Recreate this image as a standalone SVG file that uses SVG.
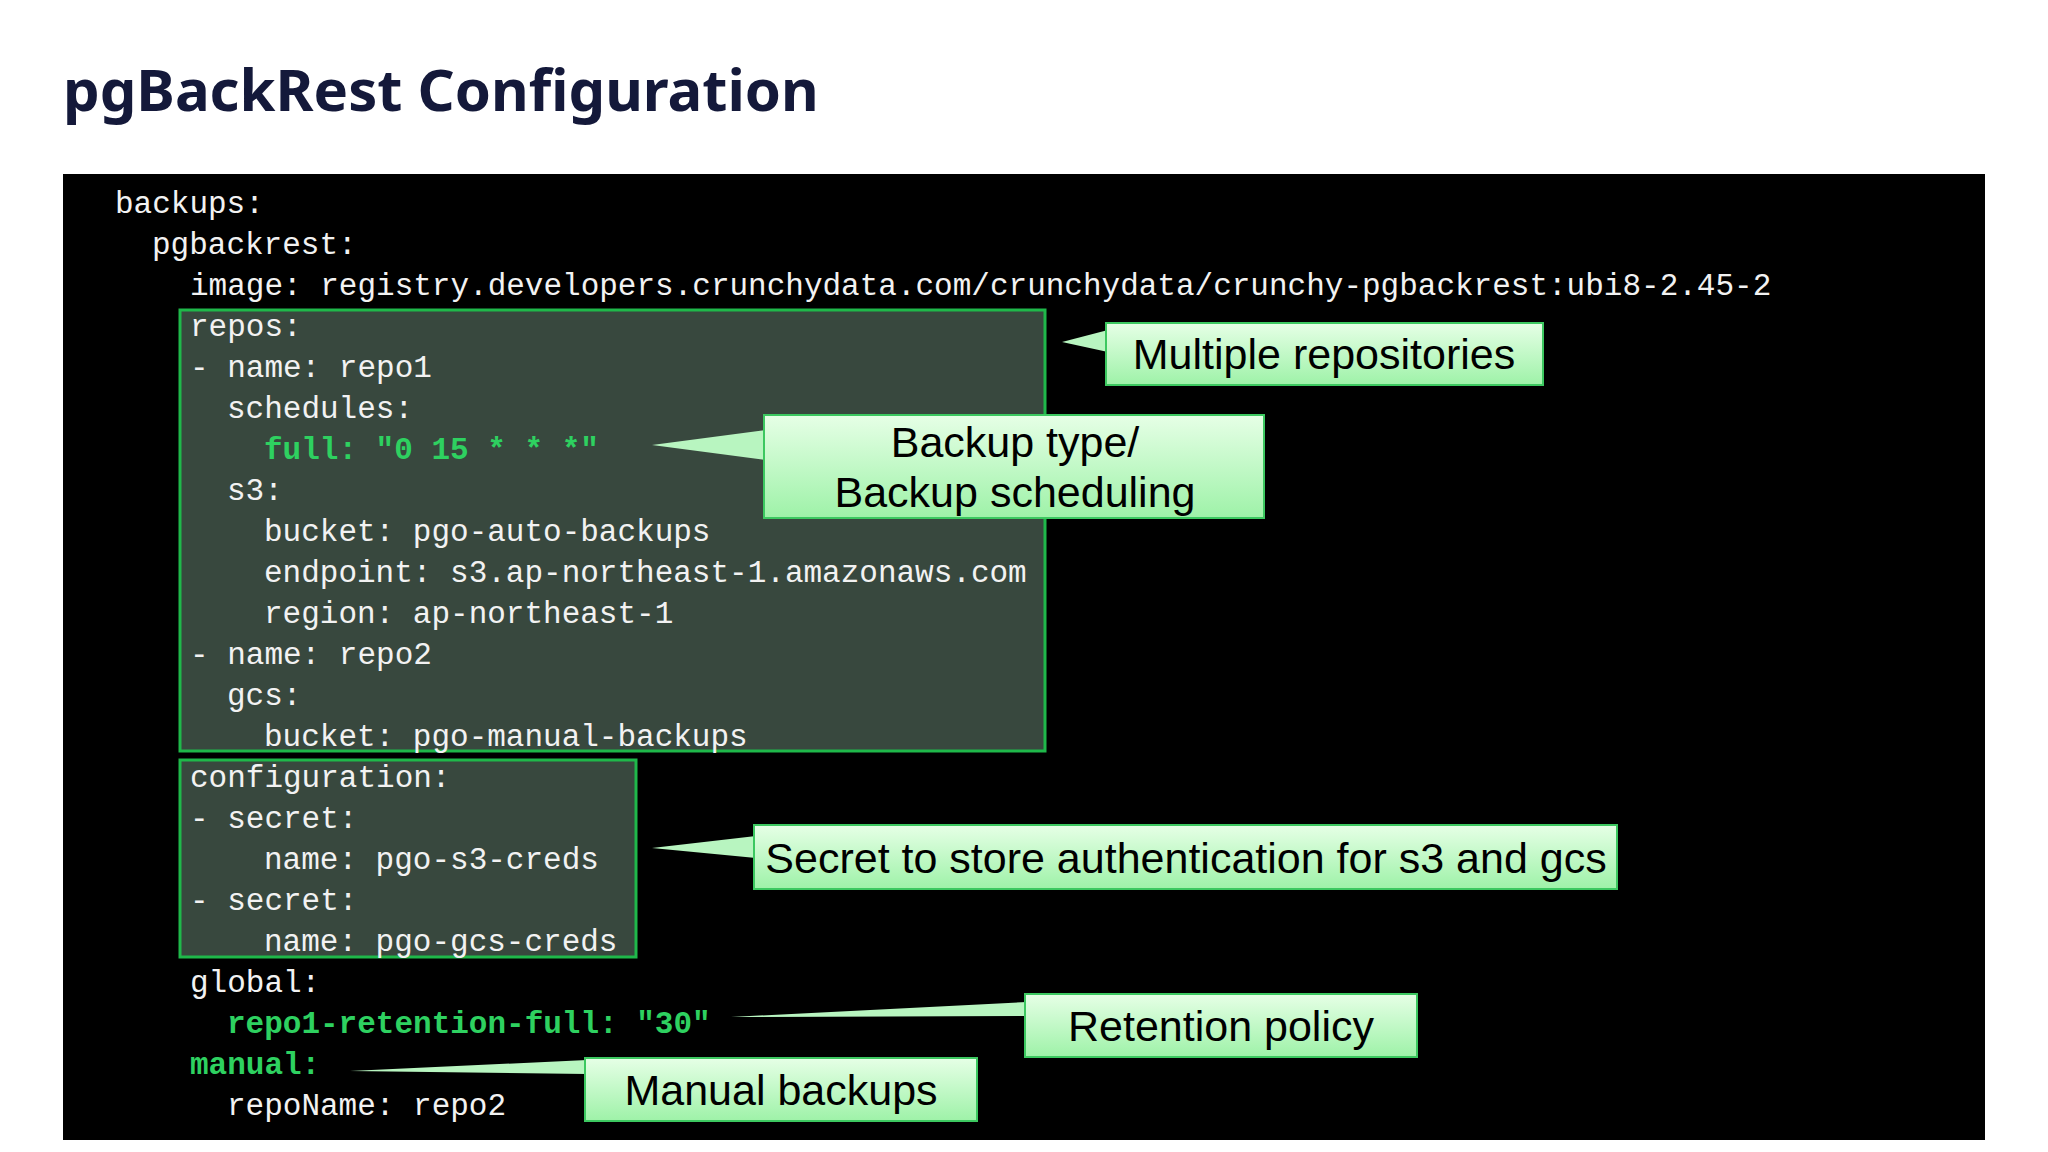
<svg xmlns="http://www.w3.org/2000/svg" width="2048" height="1152" viewBox="0 0 2048 1152">
<defs>
<linearGradient id="cg" x1="0" y1="0" x2="0" y2="1"><stop offset="0" stop-color="#e6ffe6"/><stop offset="1" stop-color="#9ef2a8"/></linearGradient>
<style>
.code{font-family:"Liberation Mono","DejaVu Sans Mono",monospace;font-size:31px;fill:#f2f2f2}
.hl{fill:#2ed160;font-weight:bold}
.gbox{fill:#38483e;stroke:#1fb84a;stroke-width:3}
.call{fill:url(#cg);stroke:#3cc860;stroke-width:2}
.ptr{fill:#b8f5c0}
.ct{font-family:"Liberation Sans",Arial,sans-serif;font-size:43px;fill:#000;text-anchor:middle}
</style>
</defs>
<rect width="2048" height="1152" fill="#fff"/>
<text x="63" y="111" font-family="'Noto Sans','Liberation Sans',sans-serif" font-weight="bold" font-size="58" fill="#14193a">pgBackRest Configuration</text>
<rect x="63" y="174" width="1922" height="966" fill="#000"/>
<g id="repos-box"><rect class="gbox" x="180" y="310" width="865" height="441"/></g>
<g id="config-box"><rect class="gbox" x="180" y="760" width="456" height="197"/></g>
<g id="code">
<text class="code" x="115" y="213">backups:</text>
<text class="code" x="152" y="254">pgbackrest:</text>
<text class="code" x="190" y="295">image: registry.developers.crunchydata.com/crunchydata/crunchy-pgbackrest:ubi8-2.45-2</text>
<text class="code" x="190" y="336">repos:</text>
<text class="code" x="190" y="377">- name: repo1</text>
<text class="code" x="227" y="418">schedules:</text>
<text class="code hl" x="264" y="459">full: "0 15 * * *"</text>
<text class="code" x="227" y="500">s3:</text>
<text class="code" x="264" y="541">bucket: pgo-auto-backups</text>
<text class="code" x="264" y="582">endpoint: s3.ap-northeast-1.amazonaws.com</text>
<text class="code" x="264" y="623">region: ap-northeast-1</text>
<text class="code" x="190" y="664">- name: repo2</text>
<text class="code" x="227" y="705">gcs:</text>
<text class="code" x="264" y="746">bucket: pgo-manual-backups</text>
<text class="code" x="190" y="787">configuration:</text>
<text class="code" x="190" y="828">- secret:</text>
<text class="code" x="264" y="869">name: pgo-s3-creds</text>
<text class="code" x="190" y="910">- secret:</text>
<text class="code" x="264" y="951">name: pgo-gcs-creds</text>
<text class="code" x="190" y="992">global:</text>
<text class="code hl" x="227" y="1033">repo1-retention-full: "30"</text>
<text class="code hl" x="190" y="1074">manual:</text>
<text class="code" x="227" y="1115">repoName: repo2</text>
</g>
<g id="connectors">
<polygon class="ptr" points="1062,342 1108,330 1108,352"/>
<polygon class="ptr" points="652,445 766,430 766,460"/>
<polygon class="ptr" points="652,848 756,836 756,858"/>
<polygon class="ptr" points="731,1017 1027,1002 1027,1016"/>
<polygon class="ptr" points="350,1071 587,1060 587,1074"/>
</g>
<g id="c-repos"><rect class="call" x="1106" y="323" width="437" height="62"/><text class="ct" x="1324" y="369">Multiple repositories</text></g>
<g id="c-backup"><rect class="call" x="764" y="415" width="500" height="103"/><text class="ct" x="1015" y="457">Backup type/</text><text class="ct" x="1015" y="507">Backup scheduling</text></g>
<g id="c-secret"><rect class="call" x="754" y="825" width="863" height="64"/><text class="ct" x="1186" y="873">Secret to store authentication for s3 and gcs</text></g>
<g id="c-retention"><rect class="call" x="1025" y="994" width="392" height="63"/><text class="ct" x="1221" y="1041">Retention policy</text></g>
<g id="c-manual"><rect class="call" x="585" y="1058" width="392" height="63"/><text class="ct" x="781" y="1105">Manual backups</text></g>
</svg>
